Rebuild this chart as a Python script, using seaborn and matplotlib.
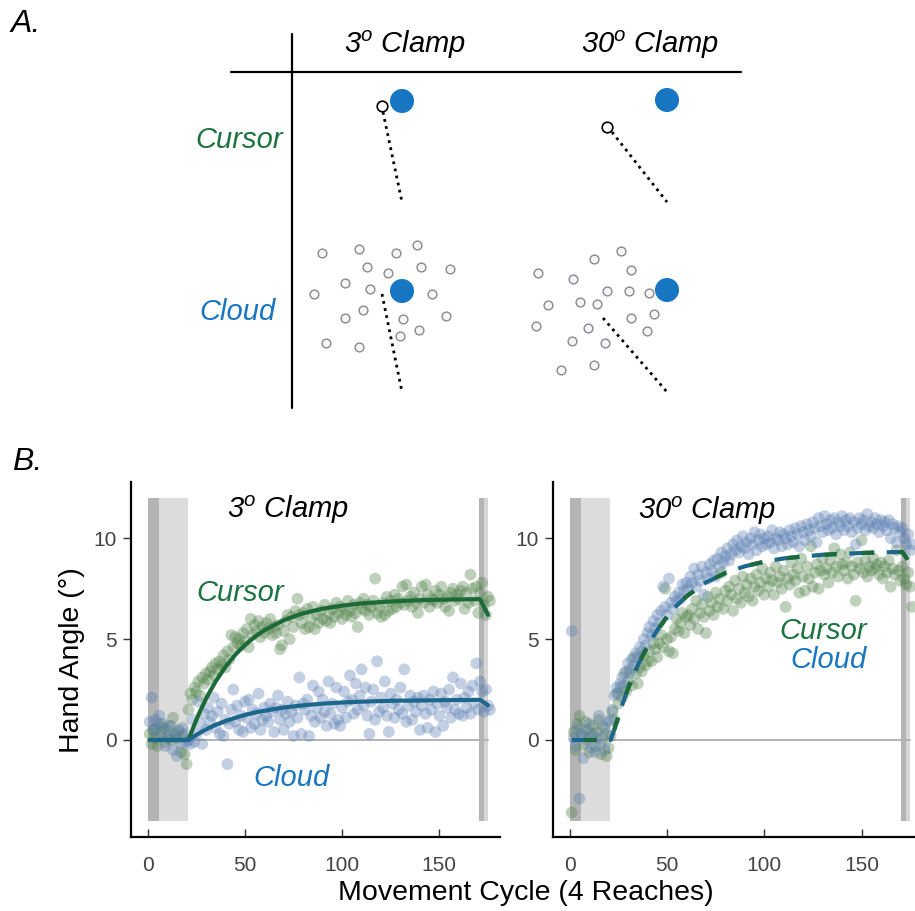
import numpy as np
import pandas as pd
import matplotlib
matplotlib.use('Agg')
import matplotlib.pyplot as plt
import seaborn as sns

# ---- panel B data: hand angle per movement cycle (deg) ----
cycles = np.arange(1, 177)

cursor_3 = [0.3, -0.2, 0.5, 0.1, -0.3, 0.8, 0.4, 0.6, -0.1, 0.2, 0.7, 0.0, 1.1, 0.3, 0.1, 0.5, -0.6, 0.2, -0.7, -1.2,
            1.5, 2.3, 2.0, 2.6, 2.4, 2.9, 2.2, 3.1, 2.8, 3.3, 3.0, 3.4, 3.6, 3.2, 3.8, 3.5, 3.9, 3.7, 4.2, 3.6,
            4.4, 4.0, 5.2, 4.6, 5.1, 4.8, 5.0, 4.7, 5.3, 4.9, 5.5, 4.6, 6.0, 5.2, 5.7, 5.4, 5.9, 5.1, 5.6, 5.3,
            5.8, 5.5, 6.0, 5.2, 5.6, 5.3, 5.7, 4.5, 4.7, 5.4, 5.9, 6.2, 5.0, 6.1, 5.6, 6.4, 7.0, 6.2, 5.8, 6.3,
            5.5, 6.5, 5.6, 6.0, 6.6, 5.5, 6.2, 5.8, 6.4, 6.0, 6.7, 5.9, 6.3, 5.8, 6.5, 6.1, 6.8, 6.3, 6.6, 6.0,
            6.5, 6.2, 6.9, 6.4, 6.1, 6.7, 6.3, 5.6, 6.8, 6.5, 7.0, 6.4, 6.7, 6.2, 6.6, 6.9, 8.0, 6.3, 6.6, 6.1,
            6.8, 6.2, 7.1, 6.4, 6.9, 6.5, 7.2, 6.6, 7.0, 6.8, 7.6, 6.7, 7.7, 6.9, 7.1, 6.6, 7.3, 6.8, 6.3, 7.0,
            7.6, 6.8, 7.7, 7.2, 6.6, 7.0, 6.9, 7.4, 6.8, 7.2, 7.6, 7.0, 6.6, 7.1, 6.4, 7.3, 7.5, 6.9, 7.2, 7.0,
            7.4, 7.6, 6.5, 7.3, 6.8, 8.2, 7.5, 6.9, 7.6, 6.3, 7.3, 7.8, 6.7, 6.2, 7.1, 6.9]

cloud_3 = [0.9, 2.1, 0.5, 1.0, 0.6, 1.2, 0.2, 0.8, -0.3, 0.5, 0.1, 0.7, -0.5, 0.2, -0.8, 0.4, -0.2, 0.6, 0.3, -0.1,
           0.0, -0.2, 1.0, -0.1, 0.3, 1.9, 0.8, -0.2, 1.3, 0.5, 1.6, 0.9, 1.2, 2.1, 0.6, 1.4, 0.3, 1.8, 0.2, 1.0,
           -1.2, 0.8, 1.5, 2.5, 0.9, 1.7, 0.5, 1.2, 0.4, 1.9, 1.1, 2.0, 0.6, 1.5, 0.8, 1.3, 2.3, 0.5, 1.0, 1.6,
           1.2, 0.9, 1.8, 1.4, 0.4, 1.6, 2.2, 1.0, 1.5, 0.5, 1.3, 1.9, 0.9, 1.4, 0.2, 1.7, 1.1, 3.1, 0.3, 1.8,
           1.5, 2.0, 0.2, 1.2, 2.7, 0.9, 1.6, 2.4, 1.1, 2.0, 1.4, 0.7, 2.9, 1.3, 1.8, 0.8, 2.6, 1.0, 0.7, 1.6,
           2.4, 1.1, 1.9, 3.2, 2.0, 1.3, 2.8, 1.5, 2.2, 3.5, 1.7, 2.6, 1.2, 0.3, 1.9, 2.5, 1.0, 3.9, 1.4, 2.1,
           1.6, 2.9, 1.2, 0.4, 2.3, 1.8, 1.1, 2.0, 1.5, 2.6, 1.3, 3.5, 0.9, 1.7, 2.2, 1.0, 1.9, 1.4, 2.1, 0.5,
           1.7, 2.2, 1.3, 0.6, 2.0, 1.5, 2.4, 0.4, 1.8, 1.2, 2.3, 0.7, 1.9, 1.6, 2.5, 1.1, 3.1, 1.5, 2.0, 1.3,
           2.8, 1.2, 2.1, 1.6, 2.4, 1.3, 2.7, 1.8, 3.8, 1.5, 2.9, 2.4, 1.4, 2.5, 1.7, 1.5]

cursor_30 = [-3.6, 0.4, -0.5, 0.8, 1.2, 0.3, -0.2, 0.9, 0.5, -0.6, 0.2, 0.7, -0.3, 0.4, 1.0, -0.7, 0.1, 0.6, -0.8, -0.4,
             0.2, 1.4, 1.0, 2.3, 1.8, 2.6, 2.1, 3.3, 2.4, 2.9, 3.5, 2.7, 4.1, 3.3, 2.8, 3.6, 3.4, 4.2, 3.7, 3.9,
             4.4, 3.9, 4.8, 4.5, 4.1, 4.8, 5.2, 4.6, 7.5, 5.0, 4.4, 5.1, 4.3, 5.5, 6.0, 5.4, 5.8, 6.3, 5.3, 6.1,
             6.2, 5.7, 6.5, 6.0, 6.9, 5.5, 6.3, 6.7, 6.1, 5.3, 7.1, 6.4, 6.8, 6.2, 7.3, 6.6, 7.0, 8.3, 6.5, 7.4,
             6.9, 7.6, 7.2, 6.4, 7.9, 7.0, 7.5, 6.8, 8.1, 7.3, 7.7, 7.1, 8.0, 6.9, 7.6, 8.2, 7.4, 7.8, 8.5, 7.2,
             8.0, 7.6, 8.3, 7.9, 7.2, 8.6, 7.8, 8.1, 7.5, 8.4, 6.6, 8.0, 7.7, 8.8, 8.2, 7.9, 8.5, 7.3, 9.0, 8.1,
             7.4, 8.6, 8.0, 9.6, 7.6, 8.3, 8.7, 7.5, 8.4, 9.0, 8.2, 8.5, 7.8, 8.9, 8.3, 9.5, 8.6, 8.1, 9.2, 8.7,
             8.4, 8.8, 8.0, 9.3, 8.6, 8.2, 6.9, 8.8, 8.5, 9.9, 8.3, 8.9, 8.1, 8.6, 8.4, 9.0, 8.5, 8.7, 8.2, 8.8,
             8.0, 8.6, 8.3, 8.9, 7.6, 8.5, 8.2, 9.4, 8.4, 7.9, 8.6, 8.0, 7.7, 8.3, 7.6, 6.6]

cloud_30 = [5.4, 0.1, -0.3, 0.6, -2.9, 0.2, -0.9, 0.4, 0.0, 0.8, -0.4, 0.3, -0.6, 0.1, 1.2, -0.2, 0.7, -0.5, 0.3, 0.9,
            1.0, 1.5, 2.2, 2.6, 2.3, 2.8, 3.1, 2.7, 3.4, 3.8, 3.3, 4.0, 3.7, 4.3, 4.1, 4.6, 4.4, 5.0, 4.7, 5.3,
            5.6, 5.2, 5.9, 5.5, 6.2, 5.8, 6.4, 7.6, 6.6, 6.2, 8.0, 6.8, 6.5, 7.1, 6.9, 7.3, 7.0, 7.7, 7.4, 7.8,
            7.5, 8.1, 7.8, 8.5, 7.6, 8.2, 7.9, 8.6, 7.2, 8.3, 8.0, 8.7, 8.4, 8.9, 8.1, 9.0, 8.6, 9.3, 8.8, 9.1,
            9.5, 8.9, 9.2, 9.7, 9.4, 9.9, 9.3, 9.6, 10.1, 9.5, 9.8, 9.2, 10.0, 9.7, 10.3, 9.4, 9.9, 10.2, 9.6, 10.0,
            9.7, 10.1, 9.8, 10.4, 9.5, 10.0, 9.9, 10.3, 9.6, 10.2, 10.0, 9.7, 10.4, 10.1, 9.8, 10.5, 10.2, 9.6, 10.6, 10.3,
            9.9, 10.7, 10.4, 10.1, 10.8, 10.5, 9.8, 11.0, 10.6, 10.3, 11.1, 10.7, 10.4, 10.9, 10.5, 11.0, 10.2, 10.8, 10.6, 11.1,
            10.4, 10.9, 10.6, 11.0, 10.3, 10.8, 9.7, 10.5, 11.0, 10.7, 10.9, 10.4, 11.2, 10.6, 10.8, 10.5, 11.0, 10.7, 10.3, 10.9,
            10.6, 10.8, 10.4, 10.9, 10.0, 10.7, 10.5, 9.8, 10.6, 10.3, 10.5, 10.0, 9.7, 10.2, 9.4, 9.7]

# model fits
fit_x = [1, 21, 23, 25, 28, 31, 35, 40, 45, 50, 55, 60, 70, 80, 90, 100, 110, 120, 130, 140, 150, 160, 171, 175]
fit_cursor_3 = [0, 0, 0.52, 1.0, 1.65, 2.23, 2.91, 3.63, 4.22, 4.71, 5.11, 5.44, 5.94, 6.28, 6.51, 6.66,
                6.77, 6.84, 6.89, 6.93, 6.95, 6.97, 6.98, 6.2]
fit_cloud_3 = [0, 0, 0.13, 0.25, 0.42, 0.57, 0.75, 0.94, 1.10, 1.24, 1.36, 1.45, 1.61, 1.72, 1.80, 1.86,
               1.90, 1.93, 1.95, 1.96, 1.97, 1.98, 1.99, 1.72]
fit_cursor_30 = [0, 0, 0.54, 1.17, 2.03, 2.81, 3.70, 4.66, 5.45, 6.11, 6.66, 7.12, 7.81, 8.28, 8.61, 8.84,
                 9.0, 9.1, 9.18, 9.23, 9.27, 9.3, 9.32, 8.75]
fit_cloud_30 = [0, 0, 0.54, 1.17, 2.03, 2.81, 3.70, 4.66, 5.45, 6.11, 6.66, 7.12, 7.81, 8.28, 8.61, 8.84,
                9.0, 9.1, 9.18, 9.23, 9.27, 9.3, 9.32, 8.75]

# block boundaries (cycles)
baseline_nofb = (0, 5.8)
baseline_fb = (0, 20.6)
washout_a = (170.4, 173.1)
washout_b = (173.1, 174.9)

# ---- panel A schematic (pixel positions) ----
target_x = [402, 667, 402, 667]
target_y = [101, 100, 291, 290]
cursor_dot_x = [382, 607]
cursor_dot_y = [106, 127]
reach_lines = [((383, 112), (402, 202)), ((612, 132), (667, 202)),
               ((382, 294), (402, 392)), ((603, 318), (667, 392))]
cloud3_x = [322, 359, 396, 417, 367, 388, 421, 450, 345, 370, 314, 432, 363, 345, 403, 446, 419, 400, 326, 359]
cloud3_y = [253, 249, 253, 245, 267, 273, 267, 269, 283, 289, 294, 294, 310, 318, 319, 316, 330, 336, 343, 347]
cloud30_x = [621, 594, 538, 573, 631, 607, 629, 649, 548, 580, 597, 631, 654, 536, 588, 647, 572, 605, 561, 594]
cloud30_y = [251, 259, 273, 279, 270, 291, 291, 293, 305, 302, 304, 318, 314, 326, 328, 331, 341, 343, 370, 365]

GREEN_TXT = '#1b7340'
BLUE_TXT = '#1877c0'
GREEN_LINE = '#1c6a38'
BLUE_LINE = '#1d678c'
GREEN_DOT = '#4f8048'
BLUE_DOT = '#5a7fb2'
TARGET = '#1776c1'

sns.set_style('white')
plt.rcParams['font.family'] = ['Liberation Sans', 'DejaVu Sans']
plt.rcParams['text.color'] = 'black'
plt.rcParams['mathtext.fontset'] = 'custom'
plt.rcParams['mathtext.it'] = 'Liberation Sans:italic'
plt.rcParams['mathtext.rm'] = 'Liberation Sans'

W, H = 915, 911
BIG = 21
fig = plt.figure(figsize=(W / 100, H / 100), dpi=100)

# overlay in pixel coordinates for the schematic and shared labels
ov = fig.add_axes([0, 0, 1, 1])
ov.set_xlim(0, W)
ov.set_ylim(H, 0)
ov.axis('off')

ov.text(11, 24, 'A.', fontsize=23, style='italic', va='center', ha='left')
ov.text(12, 462, 'B.', fontsize=23, style='italic', va='center', ha='left')
ov.plot([291.5, 291.5], [34, 408], color='black', lw=1.6)
ov.plot([231, 741], [72, 72], color='black', lw=1.6)
ov.text(405, 45, r'3$^{o}$ Clamp', fontsize=BIG, style='italic', ha='center', va='center')
ov.text(650, 45, r'30$^{o}$ Clamp', fontsize=BIG, style='italic', ha='center', va='center')
ov.text(239, 140, 'Cursor', fontsize=BIG, style='italic', color=GREEN_TXT, ha='center', va='center')
ov.text(238, 312, 'Cloud', fontsize=BIG, style='italic', color=BLUE_TXT, ha='center', va='center')

for (x0, y0), (x1, y1) in reach_lines:
    ov.plot([x0, x1], [y0, y1], color='black', lw=2.0, ls=(0, (1.0, 1.6)))
sns.scatterplot(x=cloud3_x + cloud30_x, y=cloud3_y + cloud30_y, ax=ov, s=40,
                facecolor='#f6f6fa', edgecolor='#8a8a8a', linewidth=1.0, legend=False)
sns.scatterplot(x=cursor_dot_x, y=cursor_dot_y, ax=ov, s=58,
                facecolor='white', edgecolor='black', linewidth=1.2, legend=False)
sns.scatterplot(x=target_x, y=target_y, ax=ov, s=300, color=TARGET, edgecolor='none', legend=False)
ov.set_xlim(0, W)
ov.set_ylim(H, 0)

ov.text(72, 660, 'Hand Angle (°)', fontsize=20.5, rotation=90, ha='center', va='center')
ov.text(526, 893, 'Movement Cycle (4 Reaches)', fontsize=20.5, ha='center', va='center')


def make_panel(rect, xmax, cursor_vals, cloud_vals, fit_cur, fit_cld, dashed):
    ax = fig.add_axes(rect)
    for (a, b), col in [(baseline_fb, '#dcdcdc'), (baseline_nofb, '#b4b4b4'),
                        (washout_a, '#b4b4b4'), (washout_b, '#d6d6d6')]:
        ax.fill_between([a, b], -4, 12, color=col, lw=0, zorder=0)
    ax.plot([0, 175], [0, 0], color='#b3b3b3', lw=1.4, zorder=1)

    df = pd.DataFrame({'cycle': np.concatenate([cycles, cycles]),
                       'angle': list(cursor_vals) + list(cloud_vals),
                       'group': ['Cursor'] * len(cycles) + ['Cloud'] * len(cycles)})
    sns.scatterplot(data=df, x='cycle', y='angle', hue='group',
                    palette={'Cursor': GREEN_DOT, 'Cloud': BLUE_DOT},
                    s=72, alpha=0.36, edgecolor='none', legend=False, ax=ax, zorder=2)

    if dashed:
        sns.lineplot(x=fit_x, y=fit_cld, ax=ax, color=BLUE_LINE, lw=3.0,
                     zorder=3).lines[-1].set_linestyle((0, (6, 3)))
        sns.lineplot(x=fit_x, y=fit_cur, ax=ax, color=GREEN_LINE, lw=3.0,
                     zorder=4).lines[-1].set_linestyle((6, (3, 6)))
    else:
        sns.lineplot(x=fit_x, y=fit_cur, ax=ax, color=GREEN_LINE, lw=3.0, zorder=3)
        sns.lineplot(x=fit_x, y=fit_cld, ax=ax, color=BLUE_LINE, lw=3.0, zorder=3)

    ax.set_xlim(-8.6, xmax)
    ax.set_ylim(-4.81, 12.79)
    ax.set_xticks([0, 50, 100, 150])
    ax.set_yticks([0, 5, 10])
    ax.set_xlabel('')
    ax.set_ylabel('')
    sns.despine(ax=ax)
    for s in ['left', 'bottom']:
        ax.spines[s].set_color('black')
        ax.spines[s].set_linewidth(1.6)
    ax.tick_params(axis='x', bottom=True, direction='in', length=6, width=1,
                   color='#333333', labelcolor='#444444', labelsize=15, pad=14)
    ax.tick_params(axis='y', left=True, direction='out', length=6, width=1,
                   color='#333333', labelcolor='#444444', labelsize=15, pad=4)
    return ax


ax1 = make_panel([131 / W, 1 - 837 / H, 369 / W, 355 / H], 181.2,
                 cursor_3, cloud_3, fit_cursor_3, fit_cloud_3, dashed=False)
ax1.text(72, 11.4, r'3$^{o}$ Clamp', fontsize=BIG, style='italic', ha='center', va='center')
ax1.text(47.5, 7.3, 'Cursor', fontsize=BIG, style='italic', color=GREEN_TXT, ha='center', va='center')
ax1.text(74, -1.9, 'Cloud', fontsize=BIG, style='italic', color=BLUE_TXT, ha='center', va='center')

ax2 = make_panel([553 / W, 1 - 837 / H, 362 / W, 355 / H], 177.5,
                 cursor_30, cloud_30, fit_cursor_30, fit_cloud_30, dashed=True)
ax2.text(70.5, 11.35, r'30$^{o}$ Clamp', fontsize=BIG, style='italic', ha='center', va='center')
ax2.text(152.8, 5.4, 'Cursor', fontsize=BIG, style='italic', color=GREEN_TXT, ha='right', va='center')
ax2.text(152.8, 3.95, 'Cloud', fontsize=BIG, style='italic', color=BLUE_TXT, ha='right', va='center')

fig.savefig('out.png', dpi=100, facecolor='white')
